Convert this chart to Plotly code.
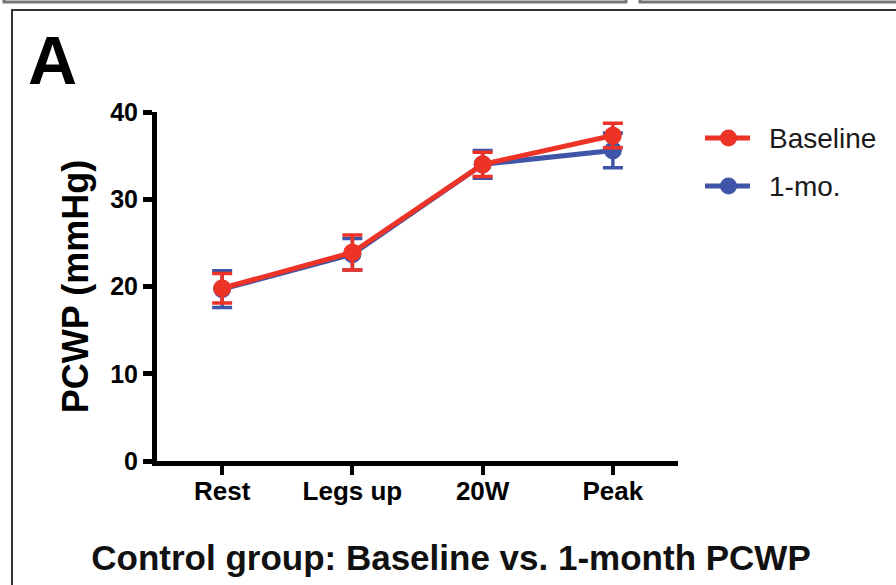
import plotly.graph_objects as go

# PCWP (mmHg) per exercise stage, mean with error bars
stages = ["Rest", "Legs up", "20W", "Peak"]
baseline_mean = [19.8, 23.9, 34.0, 37.3]
baseline_err = [1.7, 2.0, 1.4, 1.4]
month1_mean = [19.7, 23.7, 34.0, 35.6]
month1_err = [2.1, 1.8, 1.6, 2.0]
y_ticks = [0, 10, 20, 30, 40]

RED = "#ED3226"
BLUE = "#3F56A8"
FONT = "Arial, Liberation Sans, sans-serif"

W, H = 896, 585
L, R, T, B = 157, 218, 112, 124


def px_x(px):
    return (px - L) / (W - L - R)


def px_y(py):
    return (H - B - py) / (H - T - B)


fig = go.Figure()

series = [
    ("1-mo.", month1_mean, month1_err, BLUE),
    ("Baseline", baseline_mean, baseline_err, RED),
]
for name, mean, err, color in series:
    fig.add_trace(go.Scatter(
        x=stages, y=mean, name=name, mode="lines+markers",
        line=dict(color=color, width=5),
        marker=dict(color=color, size=18),
        error_y=dict(type="data", array=err, color=color, thickness=3.5, width=10),
        showlegend=False,
    ))

fig.update_layout(
    width=W, height=H,
    margin=dict(l=L, r=R, t=T, b=B),
    paper_bgcolor="white", plot_bgcolor="white",
    font=dict(family=FONT, color="black"),
    title=dict(
        text="Control group: Baseline vs. 1-month PCWP",
        x=451 / W, xref="container", xanchor="center",
        y=(H - 558) / H, yref="container", yanchor="middle",
        font=dict(size=35, family=FONT, weight="bold", color="#111"),
    ),
    xaxis=dict(
        type="category", range=[-0.5, 3.5],
        showline=True, linecolor="black", linewidth=5,
        ticks="outside", ticklen=9, tickwidth=4, tickcolor="black",
        ticklabelstandoff=-6,
        tickfont=dict(size=26, family=FONT, weight="bold"),
        showgrid=False, zeroline=False, fixedrange=True,
    ),
    yaxis=dict(
        range=[0, 40], tickvals=y_ticks,
        showline=True, linecolor="black", linewidth=5,
        ticks="outside", ticklen=9, tickwidth=5, tickcolor="black",
        tickfont=dict(size=25, family=FONT, weight="bold"),
        showgrid=False, zeroline=False, fixedrange=True,
        title=dict(text="PCWP (mmHg)", standoff=12,
                   font=dict(size=36, family=FONT, weight="bold")),
    ),
)

# legend keys: line segment with a dot, then the series name
for (name, _, _, color), ky in zip(reversed(series), [138, 186]):
    fig.add_shape(type="line", xref="paper", yref="paper",
                  x0=px_x(705), x1=px_x(750), y0=px_y(ky), y1=px_y(ky),
                  line=dict(color=color, width=5))
    fig.add_shape(type="circle", xref="paper", yref="paper",
                  x0=px_x(720), x1=px_x(737), y0=px_y(ky + 8.5), y1=px_y(ky - 8.5),
                  line=dict(color=color, width=0), fillcolor=color)
    fig.add_annotation(text=name, xref="paper", yref="paper",
                       x=px_x(767), y=px_y(ky), xanchor="left", yanchor="middle",
                       showarrow=False,
                       font=dict(size=28, family=FONT, color="#1a1a1a"))

# panel letter
fig.add_annotation(
    text="A", xref="paper", yref="paper", x=px_x(26), y=px_y(60),
    xanchor="left", yanchor="middle", showarrow=False,
    font=dict(size=68, family=FONT, weight="bold", color="black"),
)

# panel frame and the neighbouring tabs along the top edge
fig.add_shape(type="rect", xref="paper", yref="paper",
              x0=px_x(12), x1=px_x(W + 20), y0=px_y(H + 20), y1=px_y(10),
              line=dict(color="#333", width=2), fillcolor="rgba(0,0,0,0)", layer="below")
fig.add_shape(type="rect", xref="paper", yref="paper",
              x0=px_x(4), x1=px_x(626), y0=px_y(2), y1=px_y(-20),
              line=dict(color="#777", width=3), fillcolor="rgba(0,0,0,0)")
fig.add_shape(type="rect", xref="paper", yref="paper",
              x0=px_x(640), x1=px_x(W + 20), y0=px_y(2), y1=px_y(-20),
              line=dict(color="#777", width=3), fillcolor="rgba(0,0,0,0)")

fig.write_html("out.html")
